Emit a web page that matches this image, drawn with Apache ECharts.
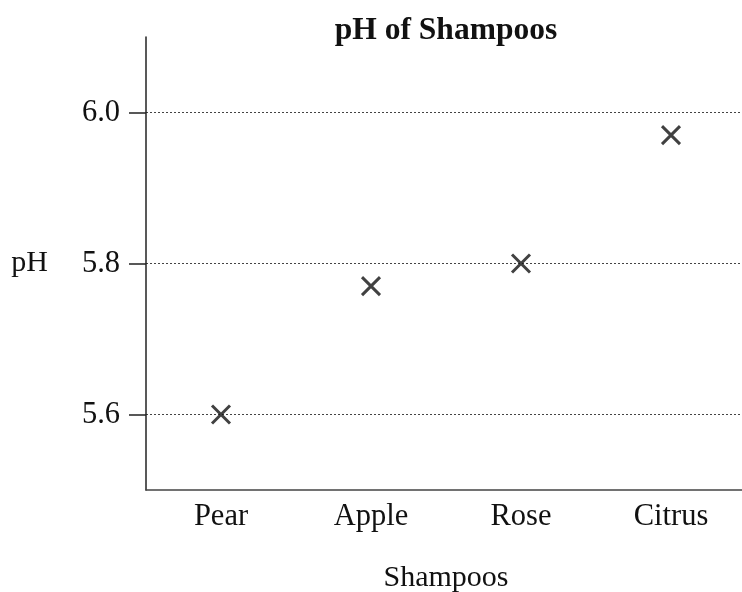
<!DOCTYPE html>
<html>
<head>
<meta charset="utf-8">
<script src="https://cdn.jsdelivr.net/npm/echarts@6/dist/echarts.min.js"></script>
<style>html,body{margin:0;padding:0;background:#fff}#c{width:742px;height:592px}</style>
</head>
<body>
<div id="c"></div>
<script>
var categories = ['Pear', 'Apple', 'Rose', 'Citrus'];
var phValues = [5.6, 5.77, 5.8, 5.97];
var yTicks = [5.6, 5.8, 6.0];

var FONT = "'Liberation Serif', 'Times New Roman', serif";
var chart = echarts.init(document.getElementById('c'));
chart.setOption({
  backgroundColor: '#fff',
  animation: false,
  title: {
    text: 'pH of Shampoos',
    left: 446, top: 15, textAlign: 'center', padding: 0,
    textStyle: { fontFamily: FONT, fontSize: 31.5, fontWeight: 'bold', color: '#111' }
  },
  grid: { left: 146, width: 600, top: 37, bottom: 102, containLabel: false, outerBoundsMode: 'none' },
  xAxis: {
    type: 'category',
    data: categories,
    boundaryGap: true,
    name: 'Shampoos',
    nameLocation: 'middle',
    nameGap: 73,
    nameTextStyle: { fontFamily: FONT, fontSize: 30, color: '#111' },
    axisLine: { show: true, lineStyle: { color: '#444', width: 1.5 } },
    axisTick: { show: false },
    axisLabel: { fontFamily: FONT, fontSize: 30.5, color: '#111', margin: 11 },
    splitLine: { show: false }
  },
  yAxis: {
    type: 'value',
    min: 5.5, max: 6.1, interval: 0.1,
    name: 'pH',
    nameLocation: 'middle',
    nameRotate: 0,
    nameGap: 98,
    nameTextStyle: { fontFamily: FONT, fontSize: 30, color: '#111' },
    axisLine: { show: true, lineStyle: { color: '#222', width: 1.5 } },
    axisTick: { show: true, inside: false, length: 17, customValues: yTicks, lineStyle: { color: '#222', width: 1.5 } },
    axisLabel: { fontFamily: FONT, fontSize: 30.5, color: '#111', margin: 26, customValues: yTicks,
      formatter: function (v) { return v.toFixed(1); } },
    splitLine: { show: true, lineStyle: { color: '#444', type: [2, 2], width: 1 } }
  },
  series: [{
    type: 'scatter',
    data: phValues,
    symbol: 'path://M0,0L10,10M10,0L0,10',
    symbolSize: 18,
    itemStyle: { color: 'none', borderColor: '#111', borderWidth: 3 }
  }]
});
</script>
</body>
</html>
